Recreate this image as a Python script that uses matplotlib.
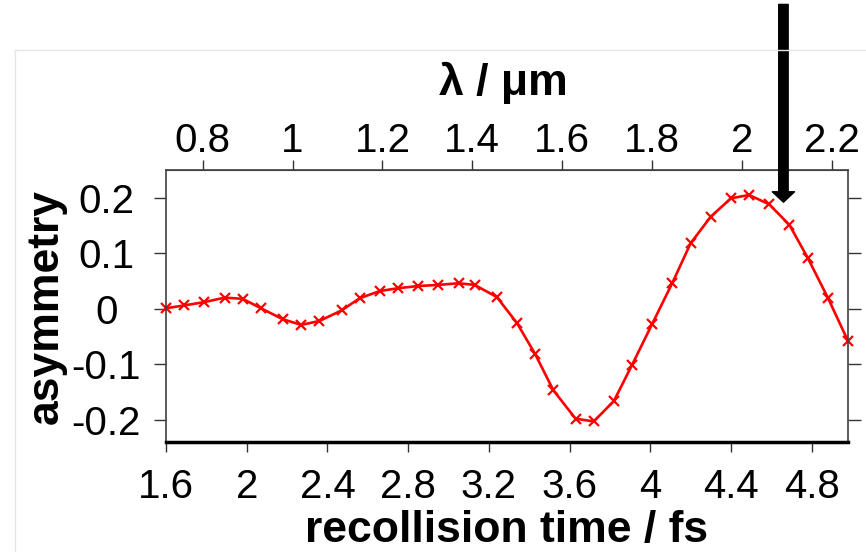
import matplotlib.pyplot as plt
from matplotlib.lines import Line2D

# данные
rec_time = [1.60, 1.69, 1.79, 1.89, 1.98, 2.07, 2.18, 2.27, 2.36, 2.47, 2.56, 2.66,
            2.75, 2.85, 2.95, 3.05, 3.13, 3.24, 3.34, 3.43, 3.52, 3.63, 3.72, 3.82,
            3.91, 4.01, 4.11, 4.20, 4.30, 4.40, 4.49, 4.59, 4.69, 4.78, 4.88, 4.98]
asym = [0.001, 0.006, 0.012, 0.020, 0.018, 0.001, -0.019, -0.029, -0.022, -0.003, 0.019, 0.032,
        0.037, 0.041, 0.043, 0.046, 0.043, 0.021, -0.026, -0.082, -0.147, -0.198, -0.203, -0.166,
        -0.101, -0.027, 0.047, 0.118, 0.166, 0.199, 0.205, 0.188, 0.151, 0.092, 0.020, -0.058]

x_ticks = [1.6, 2.0, 2.4, 2.8, 3.2, 3.6, 4.0, 4.4, 4.8]
x_labels = ["1.6", "2", "2.4", "2.8", "3.2", "3.6", "4", "4.4", "4.8"]
y_ticks = [-0.2, -0.1, 0.0, 0.1, 0.2]
y_labels = ["-0.2", "-0.1", "0", "0.1", "0.2"]
lam_ticks = [0.8, 1.0, 1.2, 1.4, 1.6, 1.8, 2.0, 2.2]
lam_labels = ["0.8", "1", "1.2", "1.4", "1.6", "1.8", "2", "2.2"]
k = 0.449  # мкм на фс
arrow_t = 4.66
arrow_y = 0.192

plt.rcParams["font.family"] = ["Liberation Sans", "DejaVu Sans"]

fig = plt.figure(figsize=(8.66, 5.52), dpi=100)
ax = fig.add_axes([166 / 866, 1 - 442 / 552, 682 / 866, 272 / 552])

ax.plot(rec_time, asym, color="red", lw=1.9, marker="x", ms=6.5, mew=1.6, clip_on=False)
ax.set_xlim(1.6, 4.98)
ax.set_ylim(-0.24, 0.25)

ax.set_xticks(x_ticks)
ax.set_xticklabels(x_labels)
ax.set_yticks(y_ticks)
ax.set_yticklabels(y_labels)
ax.tick_params(axis="x", direction="out", length=7.5, width=1, pad=11, labelsize=29, colors="#333333",
               labelcolor="black")
ax.tick_params(axis="y", direction="out", length=9, width=1, pad=34, labelsize=29, colors="#333333",
               labelcolor="black", right=True)
plt.setp(ax.get_yticklabels(), ha="center")

for s in ax.spines.values():
    s.set_color("#404040")
    s.set_linewidth(1.2)
ax.spines["bottom"].set_color("black")
ax.spines["bottom"].set_linewidth(2.5)

ax.set_xlabel("recollision time / fs", fontsize=32, fontweight="bold", va="baseline")
ax.xaxis.set_label_coords(0.5, (442 - 542) / 272)
ax.set_ylabel("asymmetry", fontsize=32, fontweight="bold", va="center")
ax.yaxis.set_label_coords((46 - 166) / 682, 0.5)

sec = ax.secondary_xaxis("top", functions=(lambda t: t * k, lambda l: l / k))
sec.set_xticks(lam_ticks)
sec.set_xticklabels(lam_labels)
sec.tick_params(direction="out", length=7.5, width=1, pad=0, labelsize=29, colors="#333333",
                labelcolor="black")
sec.spines["top"].set_color("#404040")
fig.text(503 / 866, 1 - 95 / 552, "λ / μm", fontsize=32, fontweight="bold", ha="center", va="baseline")

# стрелка
ax.annotate("", xy=(arrow_t, arrow_y), xytext=(arrow_t, 0.992),
            xycoords="data", textcoords=("data", "figure fraction"),
            arrowprops=dict(width=6.8, headwidth=16, headlength=7.5, color="black", shrink=0),
            annotation_clip=False)

# светлая рамка
fig.add_artist(Line2D([15 / 866, 1], [1 - 50 / 552] * 2, color="#e6e6e6", lw=1))
fig.add_artist(Line2D([15 / 866] * 2, [0, 1 - 50 / 552], color="#e6e6e6", lw=1))

plt.savefig("out.png", dpi=100)
